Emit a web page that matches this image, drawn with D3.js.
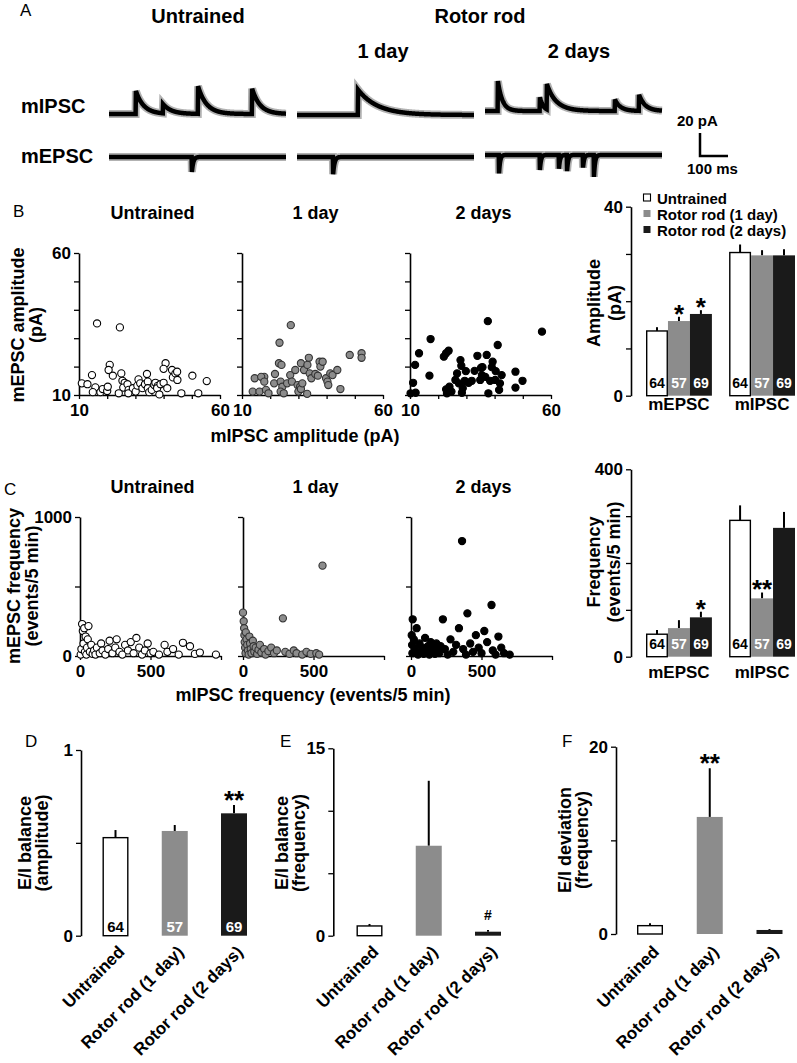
<!DOCTYPE html>
<html><head><meta charset="utf-8">
<script src="https://cdn.jsdelivr.net/npm/d3@7"></script>
<style>
body{margin:0;background:#fff;}
svg text{font-family:"Liberation Sans", Arial, sans-serif;}
</style></head><body>
<svg id="fig" width="797" height="1063"></svg>
<script>
// ---------------- DATA ----------------
const groups = ["Untrained", "Rotor rod (1 day)", "Rotor rod (2 days)"];
const panelTitles = ["Untrained", "1 day", "2 days"];
const cellCounts = [64, 57, 69];
const currentTypes = ["mEPSC", "mIPSC"];

// Panel A: example traces, events = [time (ms), amplitude (pA), decay (ms)]
const traceDurationMs = 632;
const mIPSCEvents = [
  [[96, 20, 28], [193, 8, 30], [318, 24, 30], [511, 22, 28]],
  [[218, 22, 70]],
  [[46, 26, 16], [196, 12, 12], [221, 22, 35], [464, 10, 20], [550, 14, 22]]
];
const mEPSCEvents = [
  [[296, 13, 5]],
  [[129, 15, 5]],
  [[50, 16, 4], [196, 13, 4], [264, 12, 4], [293, 14, 4], [350, 11, 4], [389, 19, 4]]
];

// Panel B: [mIPSC amplitude, mEPSC amplitude] (pA)
const ampUntrained = [[11.0,14.1],[13.0,13.8],[14.6,17.0],[15.8,12.7],[16.4,35.2],[14.9,11.0],[17.6,11.0],[18.4,12.1],[20.0,11.4],[20.2,12.9],[20.9,20.6],[20.5,18.8],[22.0,16.8],[24.5,33.8],[25.0,17.6],[25.4,15.0],[26.2,14.3],[25.7,12.6],[27.2,13.8],[27.6,11.8],[27.5,10.6],[24.1,10.6],[29.1,12.4],[30.1,11.2],[30.7,13.3],[31.1,15.5],[31.7,14.1],[32.5,12.4],[33.4,13.8],[34.1,17.4],[34.4,14.7],[34.4,12.4],[34.9,11.0],[35.8,11.8],[36.7,13.5],[37.1,14.3],[37.9,13.2],[37.7,12.4],[38.5,10.2],[38.9,13.8],[40.0,14.3],[40.7,21.2],[40.0,19.2],[41.3,12.4],[43.0,18.8],[43.3,16.2],[44.2,17.6],[44.8,18.2],[44.9,15.3],[46.3,10.6],[50.2,16.8],[52.3,10.6],[55.3,14.9]];
const ampDay1 = [[14.5,15.9],[17.9,16.4],[13.8,11.2],[16.2,11.2],[16.8,16.4],[17.9,14.7],[18.5,11.8],[19.4,10.6],[21.4,14.1],[21.7,17.4],[23.1,21.2],[24.0,20.6],[23.3,28.4],[23.7,14.7],[24.3,12.9],[23.7,11.2],[24.8,10.6],[26.0,14.1],[27.3,34.6],[27.1,17.0],[27.7,14.7],[28.9,18.8],[29.7,13.5],[30.0,11.2],[30.9,21.2],[30.6,12.9],[30.9,12.1],[31.4,14.1],[32.0,18.8],[33.1,10.4],[33.2,20.6],[33.7,23.1],[34.0,17.6],[34.6,15.9],[36.0,17.4],[36.9,16.8],[37.5,21.7],[37.8,20.0],[38.6,21.7],[39.8,15.9],[40.3,14.7],[40.6,13.5],[41.3,17.6],[42.1,17.0],[43.8,18.8],[44.9,12.1],[48.2,24.1],[52.4,24.7],[52.4,23.1]];
const ampDay2 = [[10.2,10.6],[11.1,14.3],[11.8,20.6],[13.2,24.7],[12.0,10.8],[17.3,29.7],[16.9,16.8],[22.0,23.5],[22.8,24.7],[23.7,25.6],[23.1,10.6],[22.8,12.0],[24.0,12.9],[24.7,11.2],[26.1,15.3],[26.7,17.6],[27.3,14.1],[27.9,22.3],[28.2,20.3],[28.4,10.8],[28.7,12.4],[29.4,15.0],[29.8,18.4],[30.8,14.3],[31.9,15.0],[32.9,18.5],[33.9,23.8],[34.9,15.3],[35.2,19.6],[35.5,17.0],[35.7,19.8],[36.7,16.4],[37.2,24.1],[37.6,36.0],[37.8,10.6],[38.4,15.0],[39.0,19.8],[39.3,21.7],[40.2,15.3],[40.4,18.4],[41.1,27.6],[41.6,11.8],[41.9,14.1],[42.5,17.0],[47.4,18.2],[47.4,12.6],[49.9,15.0],[56.8,32.3]];

// Panel B bars (pA): means and SEM
const ampMeansMEPSC = [13.7, 15.8, 17.3];
const ampSemMEPSC = [0.8, 0.9, 0.8];
const ampMeansMIPSC = [30.3, 29.7, 29.7];
const ampSemMIPSC = [1.7, 1.1, 1.3];
const ampMarksMEPSC = ["", "*", "*"];
const ampMarksMIPSC = ["", "", ""];

// Panel C: [mIPSC frequency, mEPSC frequency] (events/5 min)
const freqUntrained = [[5,10],[10,50],[15,230],[20,180],[25,90],[30,200],[35,30],[40,140],[45,10],[50,60],[55,120],[60,215],[70,30],[80,80],[90,15],[100,40],[110,10],[120,60],[140,20],[150,90],[160,40],[180,10],[200,50],[210,110],[230,20],[250,60],[260,120],[280,30],[300,10],[320,80],[340,40],[360,100],[380,20],[400,130],[420,60],[440,10],[460,40],[480,90],[500,20],[520,30],[560,10],[600,80],[620,30],[660,50],[700,10],[730,95],[780,70],[815,15],[850,25],[964,10]];
const freqDay1 = [[0,312],[5,250],[8,200],[10,150],[12,100],[15,60],[18,20],[20,170],[25,120],[30,80],[35,40],[40,10],[45,140],[50,90],[55,50],[60,20],[70,110],[75,70],[80,30],[90,60],[100,15],[110,45],[120,80],[130,25],[150,50],[160,10],[180,35],[200,60],[220,20],[240,40],[283,271],[300,30],[330,15],[360,40],[380,20],[420,10],[450,30],[480,15],[520,20],[540,10],[564,650]];
const freqDay2 = [[12,264],[5,150],[8,80],[10,20],[20,120],[30,50],[40,200],[50,10],[60,90],[70,30],[80,60],[90,15],[100,130],[110,40],[120,70],[130,10],[140,100],[150,30],[160,60],[170,15],[180,90],[190,40],[200,20],[210,70],[226,264],[240,50],[260,10],[280,120],[300,30],[320,80],[340,200],[362,827],[370,50],[390,10],[400,307],[420,90],[440,30],[460,150],[480,60],[500,20],[520,180],[540,100],[571,367],[580,40],[600,10],[620,140],[640,60],[660,20],[700,10]];

// Panel C bars (events/5 min)
const freqMeansMEPSC = [48, 61, 84];
const freqSemMEPSC = [9, 17, 12];
const freqMeansMIPSC = [291, 124.5, 275];
const freqSemMIPSC = [32, 12.5, 34];
const freqMarksMEPSC = ["", "", "*"];
const freqMarksMIPSC = ["", "**", ""];

// Panels D-F
const eiAmpMeans = [0.528, 0.564, 0.659];
const eiAmpSem = [0.041, 0.032, 0.045];
const eiAmpMarks = ["", "", "**"];
const eiFreqMeans = [0.78, 7.2, 0.32];
const eiFreqSem = [0.16, 5.2, 0.13];
const eiFreqMarks = ["", "", "#"];
const eiDevMeans = [0.89, 12.5, 0.43];
const eiDevSem = [0.25, 5.2, 0.10];
const eiDevMarks = ["", "**", ""];

// ---------------- DRAWING ----------------
const FONT = '"Liberation Sans", Arial, sans-serif';
const fills = ["#ffffff", "#8c8c8c", "#1a1a1a"];
const svg = d3.select("#fig");

function text(x, y, s, o = {}) {
  const t = svg.append("text").attr("x", x).attr("y", y).text(s)
    .attr("font-size", o.size || 17)
    .attr("font-weight", o.weight || "bold")
    .attr("text-anchor", o.anchor || "start")
    .attr("fill", o.fill || "#000");
  if (o.transform) t.attr("transform", o.transform);
  return t;
}
function vTitle(bx, cy, s, size = 18) {
  svg.append("text").attr("transform", `translate(${bx},${cy}) rotate(-90)`)
    .attr("text-anchor", "middle").attr("font-size", size).attr("font-weight", "bold").text(s);
}
function styleAxis(g, size = 17) {
  g.attr("font-family", FONT).attr("font-size", size).attr("font-weight", "bold");
  g.select(".domain").attr("stroke", "#000").attr("stroke-width", 1.6);
  g.selectAll(".tick line").attr("stroke", "#000").attr("stroke-width", 1.3);
  g.selectAll(".tick text").attr("fill", "#000");
}
function yAxisAt(x, scale, ticks, labels, fmt = d => String(d)) {
  const ax = d3.axisLeft(scale).tickValues(ticks).tickSize(5).tickSizeOuter(0).tickPadding(3)
    .tickFormat(d => labels.includes(d) ? fmt(d) : "");
  const g = svg.append("g").attr("transform", `translate(${x},0)`).call(ax);
  styleAxis(g);
  return g;
}
function xAxisAt(y, scale, ticks, labels) {
  const ax = d3.axisBottom(scale).tickValues(ticks).tickSize(4).tickSizeOuter(0).tickPadding(5)
    .tickFormat(d => labels.includes(d) ? String(d) : "");
  const g = svg.append("g").attr("transform", `translate(0,${y})`).call(ax);
  styleAxis(g);
  return g;
}
function star(x, cy, s, size = 26) {
  text(x, cy + 0.57 * size, s, {size, anchor: "middle"});
}

// ---- Panel A ----
text(20, 16, "A", {size: 17, weight: "normal"});
text(198, 23, "Untrained", {size: 20, anchor: "middle"});
text(480, 23, "Rotor rod", {size: 20, anchor: "middle"});
text(383, 58, "1 day", {size: 20, anchor: "middle"});
text(579, 58, "2 days", {size: 20, anchor: "middle"});
text(21, 113, "mIPSC", {size: 20});
text(21, 163, "mEPSC", {size: 20});

const traceX0 = [109, 297, 485], traceW = 177;
const ipscBase = [114, 115, 111], epscBase = [157, 157, 155];
function sampleTrace(events) {
  return d3.range(0, traceDurationMs + 1, 1).map(t => [t,
    events.reduce((s, [t0, a, tau]) => t >= t0 ? s + a * Math.exp(-(t - t0) / tau) : s, 0)]);
}
traceX0.forEach((x0, i) => {
  const xs = d3.scaleLinear().domain([0, traceDurationMs]).range([x0, x0 + traceW]);
  const yI = d3.scaleLinear().domain([0, 20]).range([ipscBase[i], ipscBase[i] - 23]);
  const yE = d3.scaleLinear().domain([0, 20]).range([epscBase[i], epscBase[i] + 23]);
  const lineI = d3.line().x(d => xs(d[0])).y(d => yI(d[1]));
  const lineE = d3.line().x(d => xs(d[0])).y(d => yE(d[1]));
  [[lineI, sampleTrace(mIPSCEvents[i])], [lineE, sampleTrace(mEPSCEvents[i])]].forEach(([ln, dat]) => {
    svg.append("path").attr("d", ln(dat)).attr("fill", "none").attr("stroke", "#000")
      .attr("stroke-opacity", 0.3).attr("stroke-width", 8).attr("stroke-linejoin", "miter");
    svg.append("path").attr("d", ln(dat)).attr("fill", "none").attr("stroke", "#000")
      .attr("stroke-width", 4.5).attr("stroke-linejoin", "miter");
  });
});
// scale bar
{
  const xs = d3.scaleLinear().domain([0, traceDurationMs]).range([0, traceW]);
  const ys = d3.scaleLinear().domain([0, 20]).range([0, 23]);
  const bx = 700, by = 156;
  svg.append("path").attr("d", `M${bx},${by - ys(20)}V${by}H${bx + xs(100)}`)
    .attr("fill", "none").attr("stroke", "#000").attr("stroke-width", 2.5);
  text(677, 126, "20 pA", {size: 15});
  text(687, 174, "100 ms", {size: 15});
}

// ---- Scatter panels ----
const scatterX0 = [79, 242, 410], scatterW = 141;
const pointFill = ["#ffffff", "#8c8c8c", "#000000"];
const pointStroke = ["#000", "#333", "#000"];

// Panel B scatter
text(13, 217, "B", {size: 17, weight: "normal"});
const ampSets = [ampUntrained, ampDay1, ampDay2];
const yB = d3.scaleLinear().domain([10, 60]).range([395, 253]);
scatterX0.forEach((x0, i) => {
  const xB = d3.scaleLinear().domain([10, 60]).range([x0, x0 + scatterW]);
  text(x0 + scatterW / 2 + 3, 219, panelTitles[i], {size: 18, anchor: "middle"});
  yAxisAt(x0, yB, [10, 20, 30, 40, 50, 60], i === 0 ? [10, 60] : []);
  xAxisAt(395, xB, [10, 20, 30, 40, 50, 60], [10, 60]);
  svg.append("g").selectAll("circle").data(ampSets[i]).join("circle")
    .attr("cx", d => xB(d[0])).attr("cy", d => yB(d[1])).attr("r", 3.6)
    .attr("fill", pointFill[i]).attr("stroke", pointStroke[i]).attr("stroke-width", 1.1);
});
vTitle(24, 325, "mEPSC amplitude");
vTitle(42, 325, "(pA)");
text(305, 442, "mIPSC amplitude (pA)", {size: 18, anchor: "middle"});

// Panel C scatter
text(4, 495, "C", {size: 17, weight: "normal"});
const freqSets = [freqUntrained, freqDay1, freqDay2];
const yC = d3.scaleLinear().domain([0, 1000]).range([656, 517]);
scatterX0.forEach((x0, i) => {
  const xC = d3.scaleLinear().domain([0, 1000]).range([x0 + 1, x0 + 1 + scatterW]);
  text(x0 + scatterW / 2 + 3, 493, panelTitles[i], {size: 18, anchor: "middle"});
  yAxisAt(x0 + 1, yC, [0, 500, 1000], i === 0 ? [0, 1000] : []);
  xAxisAt(656, xC, [0, 500, 1000], [0, 500]);
  svg.append("g").selectAll("circle").data(freqSets[i]).join("circle")
    .attr("cx", d => xC(d[0])).attr("cy", d => yC(d[1])).attr("r", 3.6)
    .attr("fill", pointFill[i]).attr("stroke", pointStroke[i]).attr("stroke-width", 1.1);
});
vTitle(20, 586, "mEPSC frequency");
vTitle(38, 586, "(events/5 min)");
text(313, 701, "mIPSC frequency (events/5 min)", {size: 18, anchor: "middle"});

// ---- Grouped bar charts (B right, C right) ----
function groupedBars(yScale, ticks, labels, means, sems, marks, numBaseline, catBaseline) {
  const axisX = 631;
  yAxisAt(axisX, yScale, ticks, labels);
  const xG = d3.scaleBand().domain(currentTypes).range([646, 795]).paddingInner(0.207);
  const xS = d3.scaleBand().domain(groups).range([0, xG.bandwidth()]);
  currentTypes.forEach((ct, gi) => {
    groups.forEach((g, si) => {
      const v = means[gi][si], e = sems[gi][si];
      const x = xG(ct) + xS(g), w = xS.bandwidth(), cx = x + w / 2;
      svg.append("line").attr("x1", cx).attr("x2", cx).attr("y1", yScale(v)).attr("y2", yScale(v + e))
        .attr("stroke", "#000").attr("stroke-width", 2);
      svg.append("rect").attr("x", si === 0 ? x + 0.7 : x).attr("y", yScale(v))
        .attr("width", si === 0 ? w - 1.4 : w).attr("height", yScale(0) - yScale(v))
        .attr("fill", fills[si]).attr("stroke", si === 0 ? "#000" : "none").attr("stroke-width", 1.4);
      text(cx, numBaseline, String(cellCounts[si]), {size: 14, anchor: "middle", fill: si === 0 ? "#000" : "#fff"});
      if (marks[gi][si]) star(cx, yScale(v + e) - 9, marks[gi][si]);
    });
    text(xG(ct) + xG.bandwidth() / 2, catBaseline, ct, {size: 17, anchor: "middle"});
  });
}
const yBbar = d3.scaleLinear().domain([0, 40]).range([395.7, 206.7]);
groupedBars(yBbar, [0, 10, 20, 30, 40], [0, 40],
  [ampMeansMEPSC, ampMeansMIPSC], [ampSemMEPSC, ampSemMIPSC], [ampMarksMEPSC, ampMarksMIPSC], 388, 410);
vTitle(600, 303, "Amplitude");
vTitle(621, 303, "(pA)");
// legend
groups.forEach((g, i) => {
  const cy = 198 + i * 16;
  svg.append("rect").attr("x", 643.5).attr("y", cy - 4).attr("width", 7).attr("height", 7)
    .attr("fill", fills[i]).attr("stroke", i === 0 ? "#000" : "none").attr("stroke-width", 1.1);
  text(657, cy + 5.5, g, {size: 15});
});

const yCbar = d3.scaleLinear().domain([0, 400]).range([656.7, 469.3]);
groupedBars(yCbar, [0, 100, 200, 300, 400], [0, 400],
  [freqMeansMEPSC, freqMeansMIPSC], [freqSemMEPSC, freqSemMIPSC], [freqMarksMEPSC, freqMarksMIPSC], 649, 678);
vTitle(600, 562, "Frequency");
vTitle(620, 562, "(events/5 min)");

// ---- Panels D, E, F ----
function simpleBars(o) {
  yAxisAt(o.axisX, o.y, o.ticks, o.labels);
  const xP = d3.scalePoint().domain(groups).range(o.centers);
  const w = 26;
  groups.forEach((g, i) => {
    const cx = xP(g), v = o.means[i], e = o.sems[i];
    svg.append("line").attr("x1", cx).attr("x2", cx).attr("y1", o.y(v)).attr("y2", o.y(v + e))
      .attr("stroke", "#000").attr("stroke-width", 2);
    svg.append("rect").attr("x", i === 0 ? cx - w / 2 + 0.7 : cx - w / 2).attr("y", o.y(v))
      .attr("width", i === 0 ? w - 1.4 : w).attr("height", o.y(0) - o.y(v))
      .attr("fill", fills[i]).attr("stroke", i === 0 ? "#000" : "none").attr("stroke-width", 1.4);
    if (o.counts) text(cx, o.y(0) - 4, String(cellCounts[i]), {size: 15, anchor: "middle", fill: i === 0 ? "#000" : "#fff"});
    if (o.marks[i] === "#") text(cx, o.y(v + e) - 10, "#", {size: 14, anchor: "middle"});
    else if (o.marks[i]) star(cx, o.y(v + e) - 11, o.marks[i]);
    text(0, 0, g, {size: 17, anchor: "end", transform: `translate(${cx + 10},953) rotate(-45)`});
  });
  text(o.letterX, 747, o.letter, {size: 17, weight: "normal"});
  vTitle(o.titleX[0], o.titleY, o.title[0]);
  vTitle(o.titleX[1], o.titleY, o.title[1]);
}
simpleBars({axisX: 81, y: d3.scaleLinear().domain([0, 1]).range([935.7, 750]), ticks: [0, 0.5, 1], labels: [0, 1],
  centers: [115.5, 234], means: eiAmpMeans, sems: eiAmpSem, marks: eiAmpMarks, counts: true,
  letter: "D", letterX: 25, title: ["E/I balance", "(amplitude)"], titleX: [31, 48], titleY: 843});
simpleBars({axisX: 333.3, y: d3.scaleLinear().domain([0, 15]).range([935.7, 748.3]), ticks: [0, 5, 10, 15], labels: [0, 15],
  centers: [369.5, 488], means: eiFreqMeans, sems: eiFreqSem, marks: eiFreqMarks, counts: false,
  letter: "E", letterX: 280, title: ["E/I balance", "(frequency)"], titleX: [288, 305], titleY: 843});
simpleBars({axisX: 616, y: d3.scaleLinear().domain([0, 20]).range([934, 746.7]), ticks: [0, 10, 20], labels: [0, 20],
  centers: [650, 769.5], means: eiDevMeans, sems: eiDevSem, marks: eiDevMarks, counts: false,
  letter: "F", letterX: 562, title: ["E/I deviation", "(frequency)"], titleX: [571, 588], titleY: 840});
</script>
</body></html>
